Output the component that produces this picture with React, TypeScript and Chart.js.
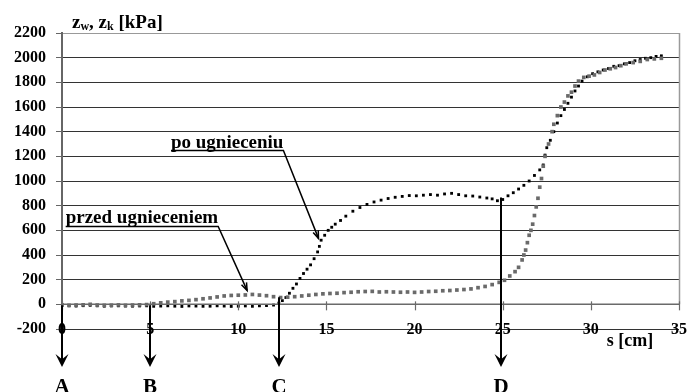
import React, { useEffect, useRef } from "react";
import { Chart, registerables } from "chart.js";
Chart.register(...registerables);

// ---- data ----
const xTickValues = [0, 5, 10, 15, 20, 25, 30, 35];
const yMin = -200;
const yMax = 2200;
const yStep = 200;

// "po ugnieceniu" (after compaction)
const poS = [
  0, 0.4, 0.8, 1.2, 1.6, 2.0, 2.4, 2.8, 3.2, 3.6, 4.0, 4.4, 4.8, 5.2, 5.6, 6.0, 6.4, 6.8, 7.2, 7.6,
  8.0, 8.4, 8.8, 9.2, 9.6, 10.0, 10.4, 10.8, 11.2, 11.6, 12.0, 12.3, 12.5, 12.7, 12.9, 13.1, 13.3,
  13.5, 13.7, 13.9, 14.1, 14.3, 14.5, 14.6, 14.7, 14.9, 15.1, 15.3, 15.5, 15.8, 16.1, 16.5, 16.9,
  17.3, 17.7, 18.1, 18.5, 18.9, 19.3, 19.7, 20.1, 20.5, 20.9, 21.3, 21.7, 22.1, 22.5, 22.9, 23.3,
  23.7, 24.1, 24.4, 24.7, 25.0, 25.3, 25.6, 25.9, 26.2, 26.5, 26.8, 27.1, 27.3, 27.4, 27.5, 27.7,
  27.9, 28.1, 28.3, 28.5, 28.7, 28.9, 29.1, 29.3, 29.5, 29.8, 30.1, 30.4, 30.7, 31.0, 31.3, 31.6,
  31.9, 32.2, 32.5, 32.8, 33.1, 33.4, 33.7, 34.0,
];
const poV = [
  -10, -12, -14, -11, -8, -12, -15, -13, -12, -14, -15, -13, -12, -16, -14, -12, -15, -17, -13, -14,
  -16, -15, -12, -14, -17, -15, -13, -16, -12, -10, -6, 10, 30, 55, 90, 130, 165,
  210, 250, 285, 320, 370, 425, 470, 520, 560, 600, 625, 650, 680, 715, 755, 785,
  810, 830, 845, 858, 868, 875, 882, 880, 885, 890, 885, 895, 900, 890, 880, 878,
  870, 862, 855, 840, 850, 880, 905, 935, 965, 1000, 1045, 1090, 1130, 1210, 1270, 1330,
  1400, 1470, 1530, 1580, 1630, 1680, 1730, 1770, 1810, 1845, 1870, 1885, 1900, 1912, 1930, 1935,
  1950, 1960, 1975, 1985, 1995, 2000, 2010, 2015,
];

// "przed ugnieceniem" (before compaction)
const przedS = [
  0, 0.4, 0.8, 1.2, 1.6, 2.0, 2.4, 2.8, 3.2, 3.6, 4.0, 4.4, 4.8, 5.2, 5.6, 6.0, 6.4, 6.8, 7.2, 7.6,
  8.0, 8.4, 8.8, 9.2, 9.6, 10.0, 10.4, 10.8, 11.2, 11.6, 12.0, 12.4, 12.8, 13.2, 13.6, 14.0, 14.4,
  14.8, 15.2, 15.6, 16.0, 16.4, 16.8, 17.2, 17.6, 18.0, 18.4, 18.8, 19.2, 19.6, 20.0, 20.4, 20.8,
  21.2, 21.6, 22.0, 22.4, 22.8, 23.2, 23.6, 24.0, 24.4, 24.8, 25.1, 25.4, 25.7, 25.9, 26.1, 26.2,
  26.3, 26.4, 26.5, 26.6, 26.7, 26.8, 26.9, 27.0, 27.1, 27.2, 27.3, 27.4, 27.6, 27.8, 27.9, 28.1,
  28.3, 28.5, 28.7, 28.9, 29.1, 29.3, 29.6, 29.9, 30.2, 30.5, 30.8, 31.1, 31.4, 31.7, 32.0, 32.4,
  32.8, 33.2, 33.6, 34.0,
];
const przedV = [
  -5, -8, -6, -4, 0, -6, -8, -7, -5, -8, -6, -4, -2, 5, 12, 18, 22, 28, 32, 38,
  45, 52, 60, 68, 72, 74, 76, 80, 75, 70, 62, 55, 58, 62, 68, 74, 80,
  85, 88, 90, 95, 98, 102, 104, 105, 100, 102, 100, 98, 100, 97, 100, 104,
  106, 110, 112, 116, 120, 125, 135, 145, 160, 178, 195, 230, 265, 300, 360, 400,
  440, 500, 560, 600, 650, 720, 790, 860, 950, 1020, 1120, 1200, 1300, 1400, 1460, 1530,
  1600, 1640, 1690, 1720, 1770, 1810, 1840, 1850, 1860, 1880, 1900, 1910, 1920, 1935, 1950, 1960,
  1970, 1985, 1990, 1995,
];

// points A-D marked below the axis
const markerLetters = ["A", "B", "C", "D"];
const markerS = [0, 5, 12.33, 24.89];
const markerFromV = [-8, -8, 57, 867];

// labels with leader arrows
const annotTexts = ["po ugnieceniu", "przed ugnieceniem"];
const annotLineStartS = [12.56, 8.86];
const annotLineStartV = [1247, 632];
const annotTipS = [14.55, 10.5];
const annotTipV = [535, 113];

const SERIF = "'Liberation Serif', 'Times New Roman', serif";

function drawArrowHead(ctx: CanvasRenderingContext2D, x: number, y: number, w: number, h: number) {
  ctx.beginPath();
  ctx.moveTo(x, y);
  ctx.lineTo(x - w / 2, y - h);
  ctx.lineTo(x, y - h * 0.6);
  ctx.lineTo(x + w / 2, y - h);
  ctx.closePath();
  ctx.fill();
}

const overlay = {
  id: "overlay",
  afterDraw(chart: any) {
    const ctx: CanvasRenderingContext2D = chart.ctx;
    const xs = chart.scales.x;
    const ys = chart.scales.y;
    const area = chart.chartArea;
    const px = (v: number) => xs.getPixelForValue(v);
    const py = (v: number) => ys.getPixelForValue(v);
    ctx.save();

    // right border
    ctx.strokeStyle = "#9a9a9a";
    ctx.lineWidth = 1.5;
    ctx.beginPath();
    ctx.moveTo(Math.round(area.right) + 0.5, area.top);
    ctx.lineTo(Math.round(area.right) + 0.5, py(0));
    ctx.stroke();

    // x axis at zero
    const y0 = py(0);
    ctx.strokeStyle = "#6a6a6a";
    ctx.lineWidth = 1.5;
    ctx.beginPath();
    ctx.moveTo(area.left, y0);
    ctx.lineTo(area.right, y0);
    ctx.stroke();
    ctx.lineWidth = 1.2;
    for (const t of xTickValues) {
      const x = Math.round(px(t)) + 0.5;
      ctx.beginPath();
      ctx.moveTo(x, y0 - 3);
      ctx.lineTo(x, y0 + 6);
      ctx.stroke();
    }

    // x tick labels sit on the -200 line
    ctx.fillStyle = "#000";
    ctx.font = `bold 16px ${SERIF}`;
    ctx.textAlign = "center";
    ctx.textBaseline = "middle";
    const yl = py(yMin);
    for (const t of xTickValues) {
      ctx.fillText(String(t), px(t), yl + 1);
    }
    ctx.font = `bold 18px ${SERIF}`;
    ctx.textAlign = "left";
    ctx.fillText("s [cm]", px(30.9), yl + 12);

    // y title with subscripts
    ctx.textBaseline = "alphabetic";
    let tx = 72;
    const by = 28;
    const parts: [string, boolean][] = [["z", false], ["w", true], [", ", false], ["z", false], ["k", true], [" [kPa]", false]];
    for (const [s, sub] of parts) {
      ctx.font = sub ? `bold 12px ${SERIF}` : `bold 19px ${SERIF}`;
      ctx.fillText(s, tx, sub ? by + 2 : by);
      tx += ctx.measureText(s).width;
    }

    // annotations
    ctx.font = `bold 19px ${SERIF}`;
    ctx.lineWidth = 1.5;
    ctx.strokeStyle = "#000";
    for (let i = 0; i < annotTexts.length; i++) {
      const sx = px(annotLineStartS[i]);
      const sy = py(annotLineStartV[i]);
      const w = ctx.measureText(annotTexts[i]).width;
      ctx.textAlign = "left";
      ctx.fillText(annotTexts[i], sx - w, sy - 3);
      ctx.beginPath();
      ctx.moveTo(sx - w, sy);
      ctx.lineTo(sx, sy);
      ctx.lineTo(px(annotTipS[i]), py(annotTipV[i]));
      ctx.stroke();
      const tx2 = px(annotTipS[i]);
      const ty2 = py(annotTipV[i]);
      const ang = Math.atan2(ty2 - sy, tx2 - sx);
      const L = 8;
      ctx.beginPath();
      ctx.moveTo(tx2 - L * Math.cos(ang - 0.35), ty2 - L * Math.sin(ang - 0.35));
      ctx.lineTo(tx2, ty2);
      ctx.lineTo(tx2 - L * Math.cos(ang + 0.35), ty2 - L * Math.sin(ang + 0.35));
      ctx.stroke();
    }

    // A-D vertical arrows
    ctx.fillStyle = "#000";
    ctx.strokeStyle = "#000";
    ctx.lineWidth = 2;
    const tipY = 367;
    for (let i = 0; i < markerLetters.length; i++) {
      const x = Math.round(px(markerS[i]));
      ctx.beginPath();
      ctx.moveTo(x, py(markerFromV[i]));
      ctx.lineTo(x, tipY - 6);
      ctx.stroke();
      drawArrowHead(ctx, x, tipY, 13, 13);
      ctx.font = `bold 21px ${SERIF}`;
      ctx.textAlign = "center";
      ctx.textBaseline = "alphabetic";
      ctx.fillText(markerLetters[i], x, 393);
    }
    ctx.restore();
  },
};

export default function App() {
  const ref = useRef<HTMLCanvasElement>(null);
  useEffect(() => {
    document.body.style.margin = "0";
    document.body.style.overflow = "hidden";
    const canvas = ref.current!;
    const yTickVals: number[] = [];
    for (let v = yMin; v <= yMax; v += yStep) yTickVals.push(v);
    const chart = new Chart(canvas, {
      type: "scatter",
      data: {
        datasets: [
          {
            label: "przed ugnieceniem",
            data: przedS.map((s, i) => ({ x: s, y: przedV[i] })),
            backgroundColor: "#6a6a6a",
            borderColor: "#6a6a6a",
            pointStyle: "rect",
            pointRadius: 2.6,
            borderWidth: 0,
            showLine: false,
          },
          {
            label: "po ugnieceniu",
            data: poS.map((s, i) => ({ x: s, y: poV[i] })),
            backgroundColor: "#000",
            borderColor: "#000",
            pointStyle: "rect",
            pointRadius: 2,
            borderWidth: 0,
            showLine: false,
          },
        ],
      },
      options: {
        responsive: false,
        animation: false,
        devicePixelRatio: 1,
        layout: { padding: { top: 33, right: 9, bottom: 63, left: 0 } },
        plugins: { legend: { display: false }, tooltip: { enabled: false } },
        scales: {
          x: { type: "linear", min: 0, max: 35, display: false },
          y: {
            type: "linear",
            min: yMin,
            max: yMax,
            afterBuildTicks: (s: any) => {
              s.ticks = yTickVals.map((v) => ({ value: v }));
            },
            afterFit: (s: any) => {
              s.width = 62;
            },
            ticks: {
              color: "#000",
              padding: 10,
              font: { family: SERIF, weight: "bold", size: 16 },
              callback: (v: any) => String(v),
            },
            grid: {
              color: (c: any) => (c.tick && c.tick.value === yMax ? "#999" : "#333"),
              lineWidth: 1,
              tickLength: 6,
              tickColor: "#666",
            },
            border: { display: true, color: "#666", width: 2 },
          },
        },
      },
      plugins: [overlay],
    } as any);
    return () => chart.destroy();
  }, []);
  return <canvas ref={ref} width={688} height={392} style={{ display: "block" }} />;
}
